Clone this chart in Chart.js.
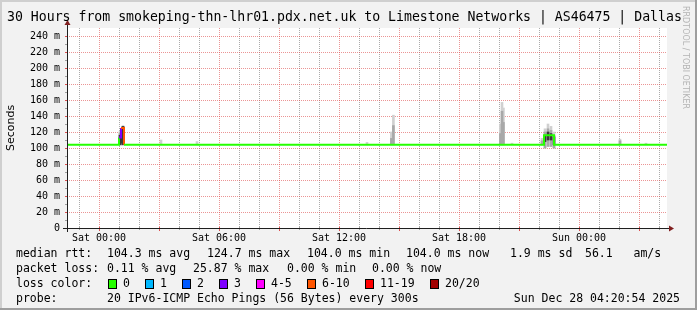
<!DOCTYPE html>
<html>
<head>
<meta charset="utf-8">
<style>
  html, body { margin: 0; padding: 0; background: #f2f2f2; }
  canvas { display: block; }
</style>
<script src="https://cdn.jsdelivr.net/npm/chart.js@4"></script>
</head>
<body>
<canvas id="grafico" width="697" height="310"></canvas>
<script>
// horas relativas a Sat 00:00 (eixo de 30 horas)
var inicio = -1.6;
var fim = 28.4;
var xTickHours = [0, 6, 12, 18, 24];
var xTickLabels = ['Sat 00:00', 'Sat 06:00', 'Sat 12:00', 'Sat 18:00', 'Sun 00:00'];

// fumaca (smoke) - uma amostra por coluna, valores em ms
var smokeHours = [1.05, 1.12, 1.2, 3.1, 4.9, 13.4, 14.62, 14.72, 20.07, 20.15, 20.22, 20.65, 22.15, 22.3, 22.45, 22.6, 22.75, 26.05, 27.35];
var smokeLo    = [104, 104, 104, 104, 104, 104, 104, 104, 104, 104, 104, 104, 104, 100, 102, 102, 100, 104, 104];
var smokeHi    = [121, 124, 128, 110, 108, 107, 120, 141, 130, 157, 150, 106, 112, 124, 130, 127, 120, 111, 106];
var smokeMidHi = [119, 122, 127, null, null, null, 112, 128, 118, 146, 132, null, 109, 120, 124, 122, 116, 109, null];
var smokeCoreLo = [104, 106, 104, null, null, null, null, null, null, null, null, null, null, 108, 110, 110, 104, null, null];
var smokeCoreHi = [116, 120, 127, null, null, null, null, null, null, null, null, null, null, 116, 120, 118, 114, null, null];

// mediana (degraus) e classe de perda de cada trecho
var medianHours  = [-1.6, 1.0, 1.1, 1.25, 22.25, 22.75, 28.4];
var medianValues = [104, 113, 125, 104, 116, 104, 104];
var medianLoss   = [0, 3, 5, 0, 0, 0, 0];

var lossLabels = ['0', '1', '2', '3', '4-5', '6-10', '11-19', '20/20'];
var lossColors = ['#26ff00', '#00b8ff', '#0059ff', '#7e00ff', '#ff00ff', '#ff5500', '#ff0000', '#a10000'];

function faixa(lo, hi) {
    var pts = [];
    for (var i = 0; i < smokeHours.length; i++) {
        if (lo[i] === null || hi[i] === null) continue;
        pts.push({ x: smokeHours[i], y: [lo[i], hi[i]] });
    }
    return pts;
}
var mediana = medianHours.map(function (h, i) { return { x: h, y: medianValues[i] }; });

var horas = [];
for (var h = -1; h <= 28; h++) horas.push(h);

var mono = '"DejaVu Sans Mono", monospace';
var corMaior = 'rgba(222,79,79,0.6)';
var corMenor = 'rgba(143,143,143,0.75)';

// grade pontilhada estilo rrdtool (1 ligado, 1 desligado)
var grade = {
    id: 'grade',
    beforeDatasetsDraw: function (chart) {
        var c = chart.ctx, a = chart.chartArea;
        var xs = chart.scales.x, ys = chart.scales.y;
        c.save();
        horas.forEach(function (h) {
            var px = Math.round(xs.getPixelForValue(h));
            c.fillStyle = (h % 3 === 0) ? corMaior : corMenor;
            for (var y = Math.round(a.top); y < a.bottom; y += 2) c.fillRect(px, y, 1, 1);
        });
        ys.ticks.forEach(function (t) {
            if (t.value === 0) return;
            var py = Math.round(ys.getPixelForValue(t.value));
            c.fillStyle = (t.value % 20 === 0) ? corMaior : corMenor;
            for (var x = Math.round(a.left); x < a.right; x += 2) c.fillRect(x, py, 1, 1);
        });
        c.restore();
    }
};

var moldura = {
    id: 'moldura',
    beforeDraw: function (chart) {
        var c = chart.ctx, a = chart.chartArea;
        c.save();
        c.fillStyle = '#f2f2f2';
        c.fillRect(0, 0, chart.width, chart.height);
        c.fillStyle = '#cfcfcf';
        c.fillRect(0, 0, chart.width, 2);
        c.fillRect(0, 0, 2, chart.height);
        c.fillStyle = '#9e9e9e';
        c.fillRect(chart.width - 2, 0, 2, chart.height);
        c.fillRect(0, chart.height - 2, chart.width, 2);
        c.fillStyle = '#ffffff';
        c.fillRect(a.left, a.top, a.right - a.left, a.bottom - a.top);
        c.restore();
    },
    afterDraw: function (chart) {
        var c = chart.ctx, a = chart.chartArea;
        var xs = chart.scales.x, ys = chart.scales.y;
        c.save();
        // marcas nos eixos
        horas.forEach(function (h) {
            var px = Math.round(xs.getPixelForValue(h)) + 0.5;
            c.strokeStyle = (h % 3 === 0) ? '#de4f4f' : '#a0a0a0';
            c.beginPath();
            c.moveTo(px, a.bottom - 1);
            c.lineTo(px, a.bottom + (h % 3 === 0 ? 3 : 2));
            c.stroke();
        });
        for (var v = 10; v <= 240; v += 10) {
            var py = Math.round(ys.getPixelForValue(v)) + 0.5;
            c.strokeStyle = (v % 20 === 0) ? '#de4f4f' : '#a0a0a0';
            c.beginPath();
            c.moveTo(a.left - 2, py);
            c.lineTo(a.left + 1, py);
            c.stroke();
        }
        // eixos com setas
        c.strokeStyle = '#1f1f1f';
        c.lineWidth = 1;
        c.beginPath();
        c.moveTo(a.left - 4, a.bottom + 0.5);
        c.lineTo(a.right + 3, a.bottom + 0.5);
        c.moveTo(a.left + 0.5, a.bottom + 4);
        c.lineTo(a.left + 0.5, a.top - 5);
        c.stroke();
        c.fillStyle = '#801f1f';
        c.beginPath();
        c.moveTo(a.right + 2, a.bottom - 2.5);
        c.lineTo(a.right + 7, a.bottom + 0.5);
        c.lineTo(a.right + 2, a.bottom + 3.5);
        c.fill();
        c.beginPath();
        c.moveTo(a.left - 2.5, a.top - 3);
        c.lineTo(a.left + 0.5, a.top - 8);
        c.lineTo(a.left + 3.5, a.top - 3);
        c.fill();

        // titulo
        c.fillStyle = '#000';
        c.textBaseline = 'middle';
        c.font = '13.2px ' + mono;
        c.fillText('30 Hours from smokeping-thn-lhr01.pdx.net.uk to Limestone Networks | AS46475 | Dallas', 7, 18);

        // rotulo vertical
        c.save();
        c.translate(11, 128);
        c.rotate(-Math.PI / 2);
        c.textAlign = 'center';
        c.font = '11px "DejaVu Sans", sans-serif';
        c.fillText('Seconds', 0, 0);
        c.restore();

        // marca d'agua
        c.save();
        c.translate(685, 6);
        c.rotate(Math.PI / 2);
        c.fillStyle = '#b4b4b4';
        c.font = '8px "DejaVu Sans", sans-serif';
        c.textBaseline = 'middle';
        c.fillText('RRDTOOL / TOBI OETIKER', 0, 0);
        c.restore();

        // legenda
        c.fillStyle = '#000';
        c.font = '11.5px ' + mono;
        var linha1 = [[16, 'median rtt:'], [107, '104.3 ms avg'], [207, '124.7 ms max'], [307, '104.0 ms min'], [406, '104.0 ms now'], [510, '1.9 ms sd'], [585, '56.1   am/s']];
        var linha2 = [[16, 'packet loss:'], [107, '0.11 % avg'], [193, '25.87 % max'], [287, '0.00 % min'], [372, '0.00 % now']];
        linha1.forEach(function (t) { c.fillText(t[1], t[0], 254); });
        linha2.forEach(function (t) { c.fillText(t[1], t[0], 269); });
        c.fillText('loss color:', 16, 284);
        var caixas = [108, 145, 182, 219, 256, 307, 365, 430];
        caixas.forEach(function (bx, i) {
            c.fillStyle = lossColors[i];
            c.fillRect(bx, 279, 9, 10);
            c.strokeStyle = '#000';
            c.strokeRect(bx + 0.5, 279.5, 8, 9);
            c.fillStyle = '#000';
            c.fillText(lossLabels[i], bx + 15, 284);
        });
        c.fillText('probe:', 16, 299);
        c.fillText('20 IPv6-ICMP Echo Pings (56 Bytes) every 300s', 107, 299);
        c.textAlign = 'right';
        c.fillText('Sun Dec 28 04:20:54 2025', 680, 299);
        c.restore();
    }
};

var ctx = document.getElementById('grafico').getContext('2d');
var grafico = new Chart(ctx, {
    type: 'bar',
    data: {
        datasets: [
            {
                type: 'line',
                label: 'median',
                data: mediana,
                stepped: 'before',
                borderWidth: 2,
                borderColor: lossColors[0],
                pointRadius: 0,
                segment: {
                    borderColor: function (s) { return lossColors[medianLoss[s.p0DataIndex]]; }
                },
                order: 0
            },
            { label: 'core', data: faixa(smokeCoreLo, smokeCoreHi), backgroundColor: '#3a3a3a', order: 1 },
            { label: 'mid', data: faixa(smokeLo, smokeMidHi), backgroundColor: '#a8a8a8', order: 2 },
            { label: 'smoke', data: faixa(smokeLo, smokeHi), backgroundColor: '#d0d0d0', order: 3 }
        ]
    },
    options: {
        responsive: false,
        animation: false,
        events: [],
        grouped: false,
        barThickness: 2,
        layout: { padding: { left: 0, right: 30, top: 28, bottom: 0 } },
        plugins: { legend: { display: false }, tooltip: { enabled: false } },
        scales: {
            x: {
                type: 'linear',
                min: inicio,
                max: fim,
                offset: false,
                afterFit: function (s) { s.height = 82; },
                afterBuildTicks: function (s) {
                    s.ticks = horas.map(function (h) { return { value: h }; });
                },
                border: { display: false },
                grid: { display: false, drawTicks: false },
                ticks: {
                    autoSkip: false,
                    maxRotation: 0,
                    padding: 4,
                    color: '#000',
                    font: { family: 'DejaVu Sans Mono', size: 10 },
                    callback: function (v) {
                        var i = xTickHours.indexOf(v);
                        return i >= 0 ? xTickLabels[i] : '';
                    }
                }
            },
            y: {
                min: 0,
                max: 250,
                afterFit: function (s) { s.width = 67; },
                border: { display: false },
                grid: { display: false, drawTicks: false },
                ticks: {
                    stepSize: 10,
                    padding: 7,
                    color: '#000',
                    font: { family: 'DejaVu Sans Mono', size: 10 },
                    callback: function (v) {
                        if (v === 0) return '0';
                        return (v % 20 === 0) ? v + ' m' : '';
                    }
                }
            }
        }
    },
    plugins: [grade, moldura]
});
</script>
</body>
</html>
